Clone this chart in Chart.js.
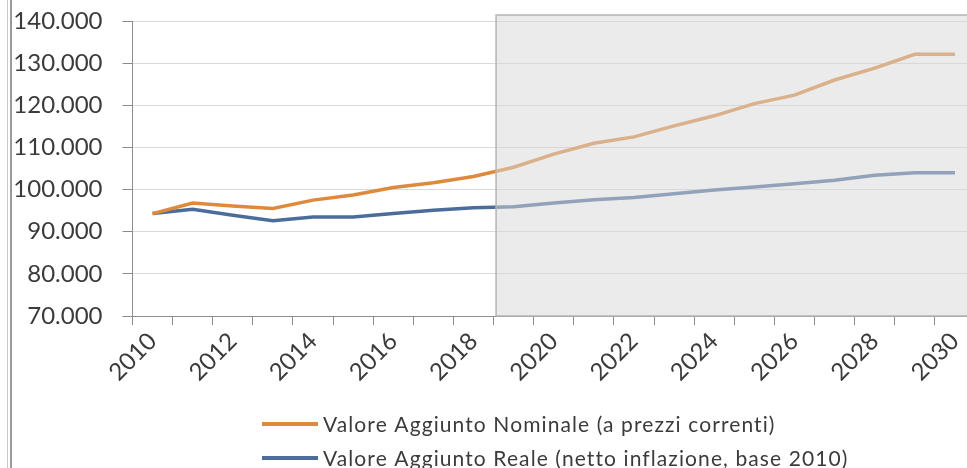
<!DOCTYPE html>
<html lang="it">
<head>
<meta charset="utf-8">
<title>Valore Aggiunto 2010-2030</title>
<script src="https://cdn.jsdelivr.net/npm/chart.js@4/dist/chart.umd.min.js"></script>
<style>
  html, body { margin: 0; padding: 0; background: #fff; }
  #wrap { position: relative; width: 967px; height: 468px; overflow: hidden; }
  #frame1 { position: absolute; left: 7px; top: 0; width: 1px; height: 468px; background: #c8c8c8; }
  #frame2 { position: absolute; left: 10px; top: 0; width: 2px; height: 468px; background: #9a9a9a; }
  #box { position: absolute; left: 0; top: 0; width: 985px; height: 468px; }
</style>
</head>
<body>
<div id="wrap">
  <div id="box"><canvas id="chart" width="985" height="468"></canvas></div>
  <div id="frame1"></div>
  <div id="frame2"></div>
</div>
<script>
const anni = ["2010","2011","2012","2013","2014","2015","2016","2017","2018","2019",
              "2020","2021","2022","2023","2024","2025","2026","2027","2028","2029","2030"];
const nominale = [94300, 96800, 96100, 95500, 97500, 98700, 100500, 101600, 103100, 105300,
                  108400, 111000, 112500, 115100, 117500, 120400, 122400, 126000, 128800, 132100, 132100];
const reale = [94300, 95300, 93900, 92600, 93500, 93500, 94300, 95100, 95700, 95900,
               96800, 97600, 98100, 99000, 99900, 100600, 101400, 102200, 103400, 104000, 104000];
const primoAnnoPrevisione = 9; // da 2019 in poi: stime

const FONT = "Lato, 'Open Sans', sans-serif";
const testo = "#3b3b3b";

function formatIt(v) {
  return v.toLocaleString("it-IT");
}

// area grigia semitrasparente sopra le previsioni
const previsioni = {
  id: "previsioni",
  afterDatasetsDraw(chart) {
    const x = chart.scales.x, y = chart.scales.y;
    const left = (x.getPixelForValue(primoAnnoPrevisione - 1) + x.getPixelForValue(primoAnnoPrevisione)) / 2 + 2.5;
    const top = y.getPixelForValue(y.max) - 6;
    const bottom = chart.chartArea.bottom;
    const ctx = chart.ctx;
    ctx.save();
    ctx.fillStyle = "rgba(215,215,215,0.5)";
    ctx.fillRect(left, top, chart.width - left + 10, bottom - top);
    ctx.strokeStyle = "#b5b5b5";
    ctx.lineWidth = 1.5;
    ctx.strokeRect(left, top, chart.width - left + 10, bottom - top);
    ctx.restore();
  }
};

// legenda su due righe, allineata a sinistra
const legenda = {
  id: "legenda",
  afterDraw(chart) {
    const ctx = chart.ctx;
    ctx.save();
    ctx.font = "21px " + FONT;
    ctx.letterSpacing = "1.1px";
    ctx.textBaseline = "middle";
    chart.data.datasets.forEach((ds, i) => {
      const yy = 424 + i * 34;
      ctx.strokeStyle = ds.borderColor;
      ctx.lineWidth = 4;
      ctx.beginPath();
      ctx.moveTo(262, yy);
      ctx.lineTo(318, yy);
      ctx.stroke();
      ctx.fillStyle = testo;
      ctx.fillText(ds.label, 323, yy + 1);
    });
    ctx.restore();
  }
};

new Chart(document.getElementById("chart"), {
  type: "line",
  data: {
    labels: anni,
    datasets: [
      {
        label: "Valore Aggiunto Nominale (a prezzi correnti)",
        data: nominale,
        borderColor: "#dd8a3c",
        borderWidth: 3.5,
        pointRadius: 0,
        tension: 0
      },
      {
        label: "Valore Aggiunto Reale (netto inflazione, base 2010)",
        data: reale,
        borderColor: "#4a6d9c",
        borderWidth: 3.5,
        pointRadius: 0,
        tension: 0
      }
    ]
  },
  options: {
    responsive: false,
    animation: false,
    layout: { padding: { top: 0, right: 10, left: 0, bottom: 0 } },
    plugins: {
      legend: { display: false },
      tooltip: { enabled: false }
    },
    scales: {
      x: {
        offset: true,
        grid: {
          offset: true,
          drawOnChartArea: false,
          drawTicks: true,
          tickLength: 9,
          tickColor: "#8c8c8c"
        },
        border: { color: "#8c8c8c", width: 1 },
        ticks: {
          autoSkip: false,
          minRotation: 45,
          maxRotation: 45,
          padding: 2,
          color: testo,
          font: { family: FONT, size: 24 },
          callback: (v, i) => (i % 2 === 0 ? anni[i] : "")
        },
        afterFit: (s) => { s.height = 152; }
      },
      y: {
        min: 70000,
        max: 140000,
        ticks: {
          stepSize: 10000,
          padding: 20,
          color: testo,
          font: { family: FONT, size: 24 },
          callback: (v) => formatIt(v)
        },
        grid: {
          color: "#d9d9d9",
          tickColor: "#8c8c8c",
          tickLength: 10
        },
        border: { color: "#8c8c8c", width: 1 },
        afterFit: (s) => {
          s.width = 132.5;
          s.paddingTop = 21;
          s.paddingBottom = 0;
        }
      }
    }
  },
  plugins: [previsioni, legenda]
});
</script>
</body>
</html>
